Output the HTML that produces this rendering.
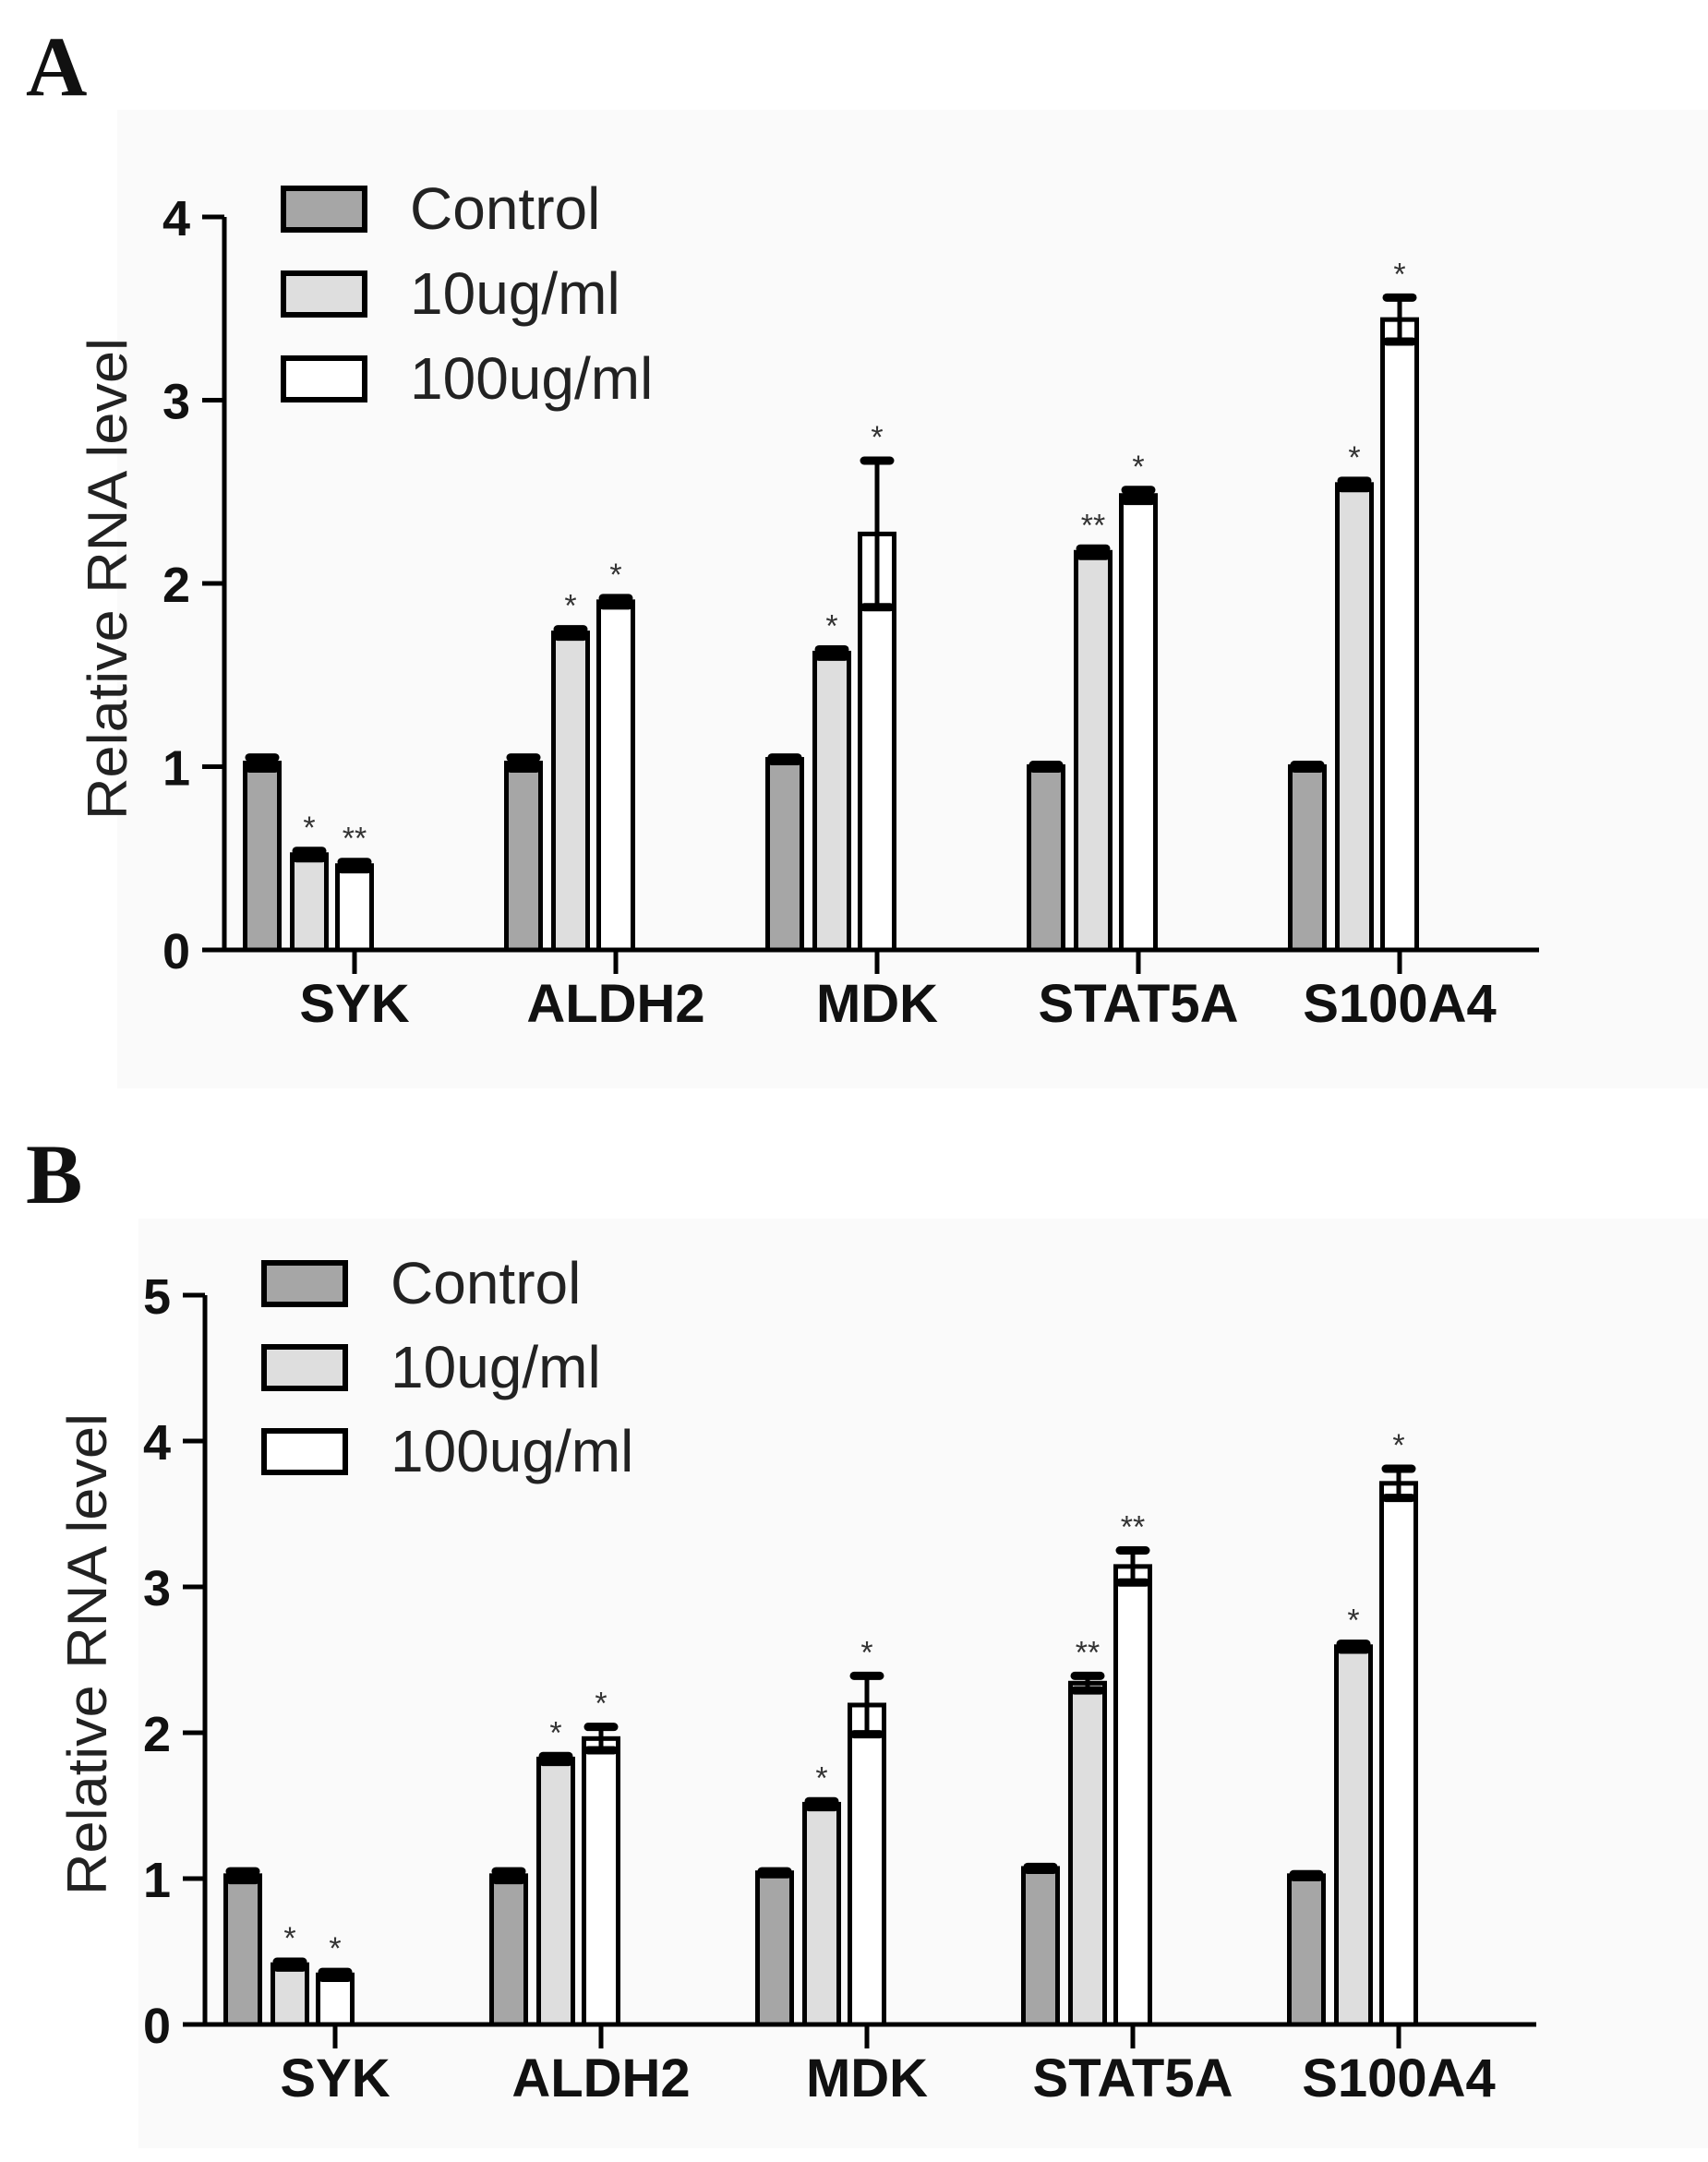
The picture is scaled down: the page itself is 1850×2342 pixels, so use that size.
<!DOCTYPE html>
<html><head><meta charset="utf-8"><style>
html,body{margin:0;padding:0;background:#fff}
svg{display:block}
</style></head><body>
<svg id="fig" width="1850" height="2342" viewBox="0 0 1850 2342" xmlns="http://www.w3.org/2000/svg">
<rect x="0" y="0" width="1850" height="2342" fill="#fff"/>
<rect x="127" y="119" width="1723" height="1060" fill="#fafafa"/>
<rect x="150" y="1320" width="1700" height="1007" fill="#fafafa"/>
<text x="28" y="103" font-family="Liberation Serif, serif" font-weight="bold" font-size="92" fill="#111">A</text>
<text x="28" y="1303" font-family="Liberation Serif, serif" font-weight="bold" font-size="92" fill="#111">B</text>
</svg>
<script>
const categories = ["SYK","ALDH2","MDK","STAT5A","S100A4"];
const seriesNames = ["Control","10ug/ml","100ug/ml"];
const aControl = [1.02,1.02,1.04,1.00,1.00];
const a10 = [0.52,1.73,1.62,2.17,2.54];
const a100 = [0.46,1.90,2.27,2.48,3.44];
const aControlErr = [0.03,0.03,0.01,0.01,0.01];
const a10Err = [0.02,0.02,0.02,0.02,0.02];
const a100Err = [0.02,0.02,0.40,0.03,0.12];
const a10Stars = ["*","*","*","**","*"];
const a100Stars = ["**","*","*","*","*"];
const aTicks = [0,1,2,3,4];
const bControl = [1.02,1.02,1.04,1.07,1.02];
const b10 = [0.41,1.82,1.51,2.34,2.59];
const b100 = [0.34,1.96,2.19,3.14,3.71];
const bControlErr = [0.03,0.03,0.01,0.01,0.01];
const b10Err = [0.02,0.02,0.02,0.05,0.02];
const b100Err = [0.02,0.08,0.20,0.11,0.10];
const b10Stars = ["*","*","*","**","*"];
const b100Stars = ["*","*","*","**","*"];
const bTicks = [0,1,2,3,4,5];

const NS="http://www.w3.org/2000/svg";
const svg=document.getElementById('fig');
function mk(tag,attrs,parent){const e=document.createElementNS(NS,tag);for(const k in attrs)e.setAttribute(k,attrs[k]);(parent||svg).appendChild(e);return e;}
const fills=["#a6a6a6","#dedede","#ffffff"];

function panel(cfg){
  const g=mk('g',{});
  
  
  const y=v=>cfg.y0-v*cfg.unit;
  const xc=i=>cfg.tick0+i*cfg.pitch;
  const ya=mk('line',{x1:cfg.ax,y1:y(cfg.ticks[cfg.ticks.length-1]),x2:cfg.ax,y2:cfg.y0,stroke:'#000','stroke-width':5},g);
  
  
  cfg.ticks.forEach(t=>{
    mk('line',{x1:cfg.ax-24,y1:y(t),x2:cfg.ax,y2:y(t),stroke:'#000','stroke-width':5},g);
    const tl=mk('text',{x:cfg.ax-37,y:y(t)+20,'text-anchor':'end','font-family':'Liberation Sans, sans-serif','font-weight':'bold','font-size':54,fill:'#111'},g);
    tl.textContent=t;
    
    
  });
  const xa=mk('line',{x1:cfg.ax-24,y1:cfg.y0,x2:cfg.xend,y2:cfg.y0,stroke:'#000','stroke-width':5},g);
  
  
  const yt=mk('text',{x:0,y:0,transform:`translate(${cfg.titleX},${cfg.titleY}) rotate(-90)`,'text-anchor':'middle','font-family':'Liberation Sans, sans-serif','font-size':60,fill:'#222',textLength:522,lengthAdjust:'spacingAndGlyphs'},g);
  yt.textContent='Relative RNA level';
  
  
  const bw=37, offs=[-100,-49,0];
  categories.forEach((c,i)=>{
    const cx=xc(i);
    mk('line',{x1:cx,y1:cfg.y0,x2:cx,y2:cfg.y0+26,stroke:'#000','stroke-width':5},g);
    const cl=mk('text',{x:cx,y:cfg.labelY,'text-anchor':'middle','font-family':'Liberation Sans, sans-serif','font-weight':'bold','font-size':58,fill:'#111'},g);
    cl.textContent=c;
    
    
    cfg.vals.forEach((arr,s)=>{
      const v=arr[i], e=cfg.errs[s][i];
      const bx=cx+offs[s]-bw/2;
      const r=mk('rect',{x:bx,y:y(v),width:bw,height:cfg.y0-y(v),fill:fills[s],stroke:'#000','stroke-width':5},g);
      
      
      const mx=cx+offs[s];
      mk('line',{x1:mx,y1:y(v+e),x2:mx,y2:y(v-e),stroke:'#000','stroke-width':5},g);
      mk('line',{x1:mx-14,y1:y(v+e),x2:mx+14,y2:y(v+e),stroke:'#000','stroke-width':9,'stroke-linecap':'round'},g);
      mk('line',{x1:mx-14,y1:y(v-e),x2:mx+14,y2:y(v-e),stroke:'#000','stroke-width':9,'stroke-linecap':'round'},g);
      const st=cfg.stars[s];
      if(st){
        const t=mk('text',{x:mx,y:y(v+e)-14,'text-anchor':'middle','font-family':'Liberation Sans, sans-serif','font-size':34,fill:'#333'},g);
        t.textContent=st[i];
        
        
      }
    });
  });
  seriesNames.forEach((n,s)=>{
    const ly=cfg.legY+s*cfg.legStep;
    const b=mk('rect',{x:cfg.legX,y:ly,width:88,height:45,fill:fills[s],stroke:'#000','stroke-width':6},g);
    
    
    const t=mk('text',{x:cfg.legX+137,y:ly+44,'font-family':'Liberation Sans, sans-serif','font-size':64,fill:'#222'},g);
    t.textContent=n;
    
    
  });
}
panel({name:'panel-a-chart',ax:243,y0:1029,unit:198.5,tick0:384,pitch:283,xend:1667,ticks:aTicks,
  vals:[aControl,a10,a100],errs:[aControlErr,a10Err,a100Err],stars:[null,a10Stars,a100Stars],
  titleX:137,titleY:627,labelY:1107,legX:307,legY:204,legStep:92});
panel({name:'panel-b-chart',ax:222,y0:2193,unit:158,tick0:363,pitch:288,xend:1664,ticks:bTicks,
  vals:[bControl,b10,b100],errs:[bControlErr,b10Err,b100Err],stars:[null,b10Stars,b100Stars],
  titleX:115,titleY:1792,labelY:2271,legX:286,legY:1368,legStep:91});
</script>
</body></html>
